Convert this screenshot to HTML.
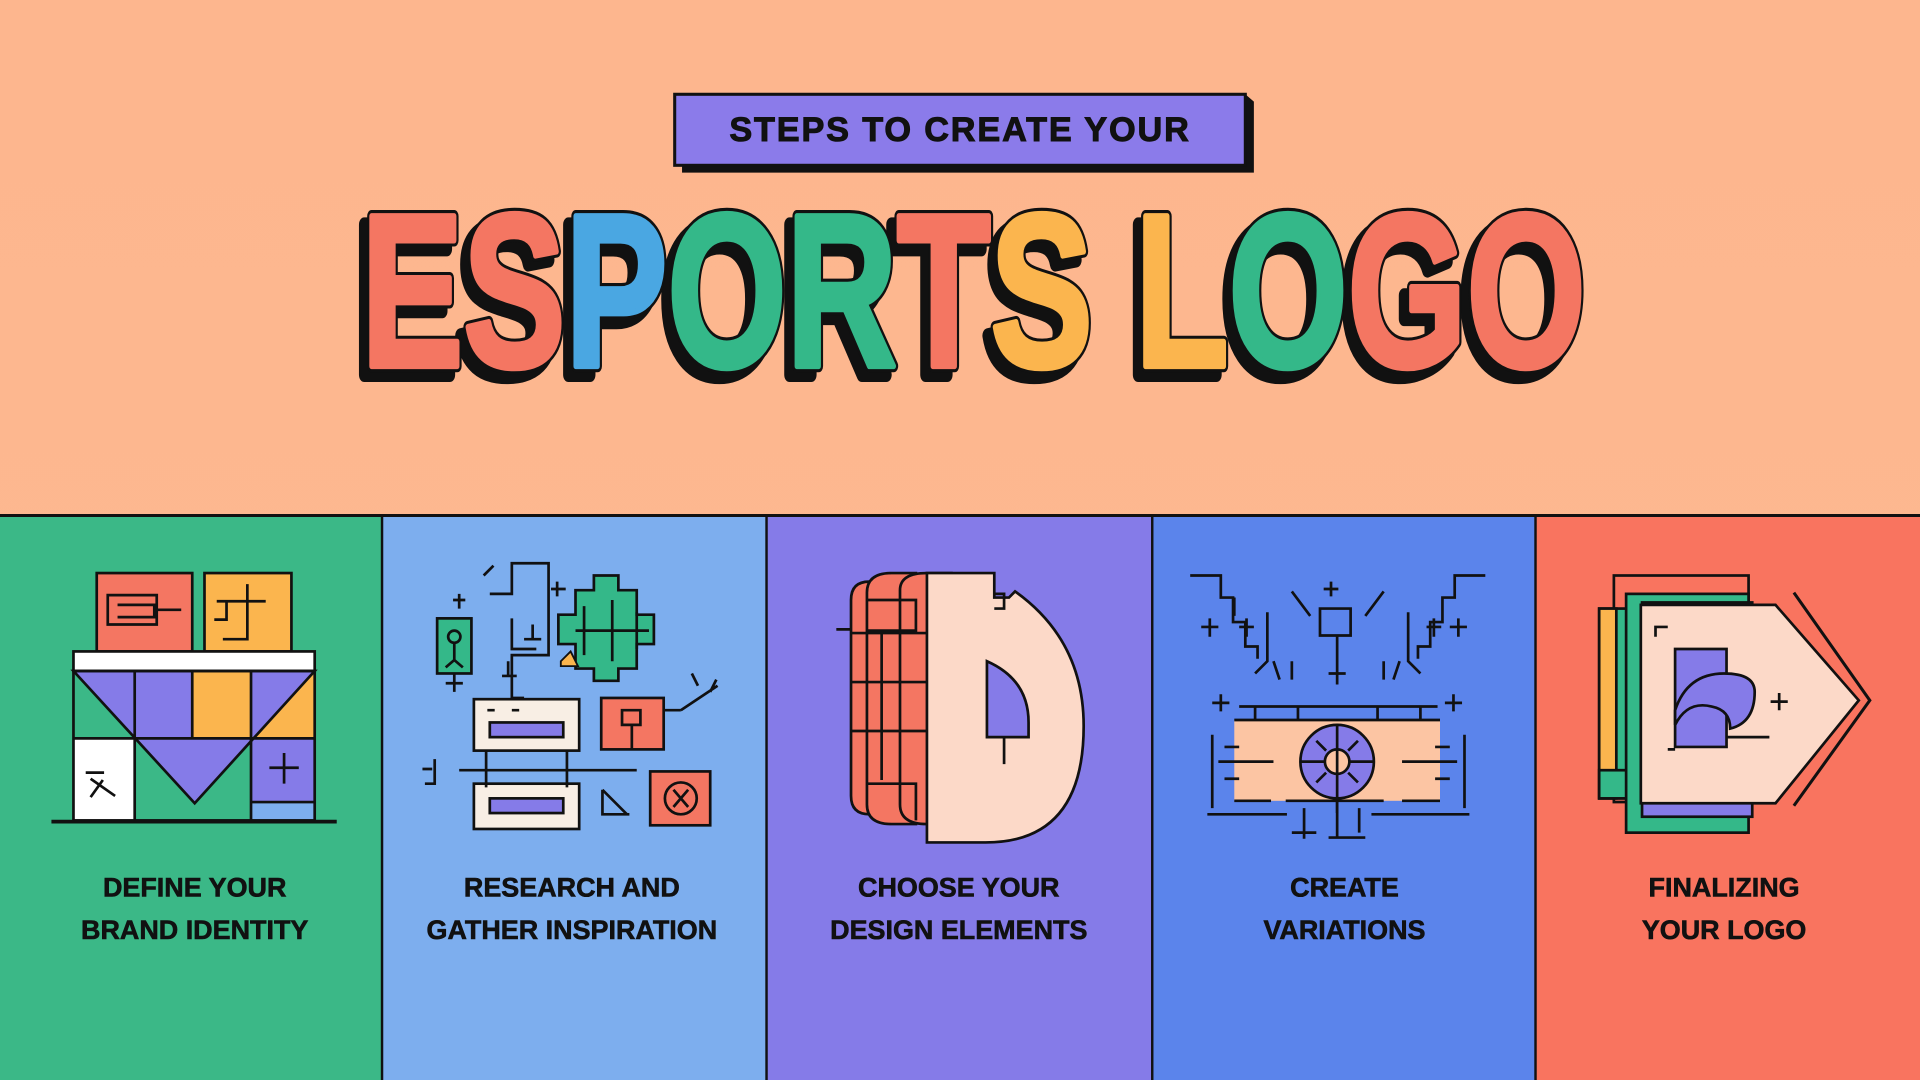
<!DOCTYPE html>
<html><head><meta charset="utf-8"><style>
html,body{margin:0;padding:0;width:1920px;height:1080px;overflow:hidden;background:#FDB78F}
svg{display:block}
text{font-family:"Liberation Sans",sans-serif;font-weight:bold}
</style></head><body>
<svg width="1920" height="1080" viewBox="0 0 1568 882" xmlns="http://www.w3.org/2000/svg">
<defs>
<linearGradient id="bg" x1="0" y1="0" x2="0" y2="1"><stop offset="0" stop-color="#FDB68E"/><stop offset="1" stop-color="#FDB991"/></linearGradient>
</defs>
<rect width="1568" height="882" fill="url(#bg)"/>
<!-- header box -->
<polygon points="557,135 557,141 1024,141 1024,83 1017,77 1017,135" fill="#111"/>
<rect x="551" y="77" width="466" height="58" fill="#8B7BEA" stroke="#111" stroke-width="2.5"/>
<text x="784" y="115" font-size="28" text-anchor="middle" fill="#111" stroke="#111" stroke-width="0.8" letter-spacing="1.5">STEPS TO CREATE YOUR</text>
<!-- big title shadow -->
<text x="289" y="306" font-size="178" textLength="1000" lengthAdjust="spacingAndGlyphs" fill="#111" stroke="#111" stroke-width="12" stroke-linejoin="round">ESPORTS LOGO</text>
<text x="295" y="299" font-size="178" textLength="1000" lengthAdjust="spacingAndGlyphs" fill="#111" stroke="#111" stroke-width="10" stroke-linejoin="round">ESPORTS LOGO</text>
<text x="295" y="299" font-size="178" textLength="1000" lengthAdjust="spacingAndGlyphs" stroke-width="5" stroke-linejoin="round"><tspan fill="#F47662" stroke="#F47662">ES</tspan><tspan fill="#4AA7E2" stroke="#4AA7E2">P</tspan><tspan fill="#34B889" stroke="#34B889">OR</tspan><tspan fill="#F47662" stroke="#F47662">T</tspan><tspan fill="#FBB54E" stroke="#FBB54E">S L</tspan><tspan fill="#34B889" stroke="#34B889">O</tspan><tspan fill="#F47662" stroke="#F47662">GO</tspan></text>
<!-- panels -->
<rect x="0" y="421" width="312" height="461" fill="#3BB887"/>
<rect x="312" y="421" width="314" height="461" fill="#7DAEEE"/>
<rect x="626" y="421" width="315" height="461" fill="#857BE8"/>
<rect x="941" y="421" width="313" height="461" fill="#5B84EB"/>
<rect x="1254" y="421" width="314" height="461" fill="#F9745F"/>
<line x1="0" y1="421" x2="1568" y2="421" stroke="#111" stroke-width="2.5"/>
<g stroke="#111" stroke-width="2"><line x1="312" y1="421" x2="312" y2="882"/><line x1="626" y1="421" x2="626" y2="882"/><line x1="941" y1="421" x2="941" y2="882"/><line x1="1254" y1="421" x2="1254" y2="882"/></g>
<!-- labels -->
<g font-size="22" text-anchor="middle" fill="#111" stroke="#111" stroke-width="0.5">
<text x="159" y="732">DEFINE YOUR</text><text x="159" y="767">BRAND IDENTITY</text>
<text x="467" y="732">RESEARCH AND</text><text x="467" y="767">GATHER INSPIRATION</text>
<text x="783" y="732">CHOOSE YOUR</text><text x="783" y="767">DESIGN ELEMENTS</text>
<text x="1098" y="732">CREATE</text><text x="1098" y="767">VARIATIONS</text>
<text x="1408" y="732">FINALIZING</text><text x="1408" y="767">YOUR LOGO</text>
</g>
<!-- icon 1 -->
<g stroke="#111" stroke-width="2.2" fill="none">
<rect x="79" y="468" width="78" height="64" fill="#F47662"/>
<rect x="167" y="468" width="71" height="64" fill="#FBB54E"/>
<path d="M88,486h40v24h-40zM96,494h30v10h-30M128,498h20"/>
<path d="M177,491h40M185,491v15h-10M202,477v45h-20"/>
<rect x="60" y="532" width="197" height="16" fill="#fff"/>
<rect x="60" y="548" width="50" height="55" fill="#3BB887" stroke="none"/>
<rect x="110" y="548" width="47" height="55" fill="#857BE8" stroke="none"/>
<rect x="205" y="548" width="52" height="55" fill="#FBB54E" stroke="none"/>
<rect x="60" y="603" width="50" height="67" fill="#fff" stroke="none"/>
<rect x="110" y="603" width="95" height="67" fill="#3BB887" stroke="none"/>
<rect x="205" y="603" width="52" height="67" fill="#857BE8" stroke="none"/>
<rect x="205" y="655" width="52" height="15" fill="#7DAEEE" stroke="none"/>
<polygon points="60,548 257,548 159,656" fill="#857BE8" stroke="none"/>
<rect x="157" y="548" width="48" height="55" fill="#FBB54E" stroke="none"/>
<polygon points="60,548 257,548 159,656"/>
<rect x="60" y="548" width="197" height="122"/>
<path d="M110,548v122M157,548v55M205,548v122M60,603h197M205,655h52"/>
<path d="M70,631h15M74,636l20,14M84,637l-10,14M232,615v25M220,627h24"/>
<line x1="42" y1="671" x2="275" y2="671" stroke-width="3"/>
</g>
<!-- icon 2 -->
<g stroke="#111" stroke-width="2.2" fill="none">
<rect x="357" y="505" width="28" height="45" fill="#34B889"/>
<circle cx="371" cy="520" r="5"/><path d="M371,525v15M364,545l7-6 7,6M371,550v15M364,558h14"/>
<path d="M395,470l8-8M370,490h10M375,485v12M400,485h18v-25h30v75h-30v35h10M418,505v25h20M435,510v12M428,522h14M415,540v12M410,552h12"/>
<path d="M455,475v12M450,481h12"/>
<path d="M485,470h20v12h15v20h14v24h-14v20h-15v10h-20v-10h-15v-20h-14v-24h14v-20h15z" fill="#34B889"/>
<path d="M477,495v40M500,490v50M520,500v30M470,515h60"/>
<path d="M458,540l8-8 6,12h-14z" fill="#FBB54E" stroke-width="1.5"/>
<rect x="387" y="571" width="86" height="42" fill="#F8EEE4"/>
<rect x="400" y="590" width="60" height="12" fill="#857BE8"/>
<path d="M398,580h6M418,580h6"/>
<rect x="387" y="640" width="86" height="37" fill="#F8EEE4"/>
<rect x="400" y="652" width="60" height="12" fill="#857BE8"/>
<path d="M375,629h145M397,613v30M463,613v30M345,628h8M355,620v20h-8"/>
<rect x="491" y="570" width="51" height="42" fill="#F47662"/>
<path d="M508,580h15v12h-15zM516,592v20M542,580h14M556,580l30-20M565,550l5,10M580,565l5,-10"/>
<rect x="531" y="630" width="49" height="44" fill="#F47662"/>
<circle cx="556" cy="652" r="13"/><path d="M550,645l12,14M562,645l-12,14"/>
<path d="M492,645v20h22M492,645l20,20"/>
</g>
<!-- icon 3 -->
<g stroke="#111" stroke-width="2.2">
<path d="M683,514h30M697,500v28" fill="none"/>
<path d="M695,490 q0,-15 15,-15 h20 v190 h-20 q-15,0 -15,-15z" fill="#F47662"/>
<path d="M708,484 q0,-16 20,-16 h20 v205 h-20 q-20,0 -20,-16z" fill="#F47662"/>
<path d="M735,482 q0,-14 22,-14 h20 v205 h-20 q-22,0 -22,-16z" fill="#F47662"/>
<path d="M695,517h62M695,557h62M695,597h62M720,517v120M708,560h0" fill="none"/>
<path d="M708,490h40v25h-40M708,640h40v30" fill="none"/>
<path d="M757,468 h55 v20 h12 l5,-5 q56,40 56,110 q0,95 -80,95 h-48z" fill="#FCD9C8"/>
<path d="M806,540 q34,15 34,50 v12 h-34z" fill="#857BE8"/>
<path d="M820,602v22M812,485h8v12h-8" fill="none"/>
</g>
<!-- icon 4 -->
<g stroke="#111" stroke-width="2.2" fill="none">
<path d="M972,470h25v18h10v20h10v20h10v10M1008,488v15M1012,512h12M1018,505v15M981,512h14M988,505v15M1035,500v40l-10,10M1040,540l5,15"/>
<path d="M1213,470h-25v18h-10v20h-10v20h-10v10M1165,512h12M1171,505v15M1198,512h-14M1191,505v15M1150,500v40l10,10M1143,540l-5,15"/>
<path d="M1055,483l15,20M1130,483l-15,20M1087,475v12M1081,481h12M1078,497h25v22h-25zM1092,519v40M1085,550h14M1055,540v15M1130,540v15"/>
<path d="M990,574h14M997,567v14M1180,574h14M1187,567v14M1012,577h162M1025,577v12M1060,577v12M1125,577v12M1160,577v12"/>
<rect x="1008" y="588" width="168" height="66" fill="#FCC5A3" stroke="none"/>
<path d="M1008,588h168M1008,654h30M1050,654h80M1145,654h31"/>
<circle cx="1092" cy="622" r="30" fill="#857BE8"/>
<circle cx="1092" cy="622" r="10" fill="#FCC5A3"/>
<path d="M1092,592v72M1062,622h20M1102,622h20M1075,605l8,8M1109,605l-8,8M1075,639l8,-8M1109,639l-8,-8"/>
<path d="M990,600v60M1196,600v60M995,622h45M1145,622h45M1000,610h12M1000,636h12M1172,610h12M1172,636h12M986,665h65M1120,665h80M1065,660v25M1055,680h20M1092,654v30M1085,684h30M1110,660v20"/>
</g>
<!-- icon 5 -->
<g stroke="#111" stroke-width="2.2">
<rect x="1318" y="470" width="110" height="185" fill="none"/>
<rect x="1306" y="497" width="28" height="155" fill="#34B889"/>
<rect x="1306" y="497" width="14" height="155" fill="#FBB54E"/>
<rect x="1306" y="629" width="28" height="23" fill="#34B889"/>
<rect x="1328" y="485" width="100" height="195" fill="#34B889"/>
<rect x="1341" y="492" width="90" height="175" fill="#857BE8"/>
<path d="M1340,494 h110 l68,78 l-68,84 h-110z" fill="#FCD9C8"/>
<path d="M1465,484 l62,88 l-62,86" fill="none" stroke-width="2.5"/>
<path d="M1352,520v-8h10" fill="none"/>
<path d="M1368,530 h42 v80 h-42z" fill="#857BE8"/>
<path d="M1368,580 q10,-30 40,-30 q25,0 25,15 q0,25 -20,30 q0,-15 -15,-18 q-20,-5 -30,15z" fill="#857BE8"/>
<path d="M1362,612h6M1410,602h35M1446,573h14M1453,566v14" fill="none"/>
</g>
</svg>
</body></html>
